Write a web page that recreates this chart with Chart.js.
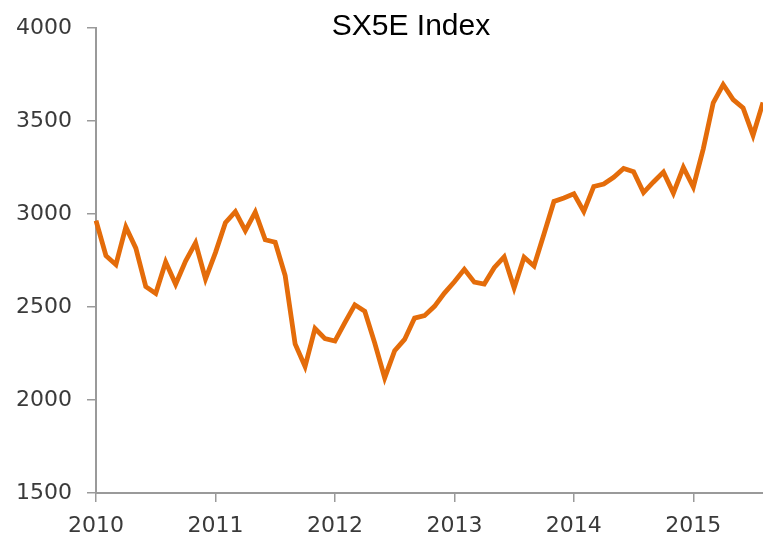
<!DOCTYPE html>
<html>
<head>
<meta charset="utf-8">
<script src="https://cdn.jsdelivr.net/npm/chart.js@4/dist/chart.umd.min.js"></script>
<style>
  html, body { margin: 0; padding: 0; background: #ffffff; }
  #wrap { position: relative; width: 763px; height: 539px; }
</style>
</head>
<body>
<div id="wrap"><canvas id="c" width="763" height="539"></canvas></div>
<script>
const chartTitle = 'SX5E Index';

// Month-end observations, Dec 2009 .. Jul 2015
const months = [
  '2009-12',
  '2010-01','2010-02','2010-03','2010-04','2010-05','2010-06','2010-07','2010-08','2010-09','2010-10','2010-11','2010-12',
  '2011-01','2011-02','2011-03','2011-04','2011-05','2011-06','2011-07','2011-08','2011-09','2011-10','2011-11','2011-12',
  '2012-01','2012-02','2012-03','2012-04','2012-05','2012-06','2012-07','2012-08','2012-09','2012-10','2012-11','2012-12',
  '2013-01','2013-02','2013-03','2013-04','2013-05','2013-06','2013-07','2013-08','2013-09','2013-10','2013-11','2013-12',
  '2014-01','2014-02','2014-03','2014-04','2014-05','2014-06','2014-07','2014-08','2014-09','2014-10','2014-11','2014-12',
  '2015-01','2015-02','2015-03','2015-04','2015-05','2015-06','2015-07'
];

const sx5e = [
  2965,
  2776, 2728, 2931, 2817, 2610, 2573, 2742, 2623, 2748, 2845, 2651, 2793,
  2954, 3013, 2911, 3011, 2862, 2849, 2670, 2302, 2180, 2385, 2330, 2317,
  2417, 2512, 2477, 2306, 2119, 2265, 2326, 2441, 2454, 2504, 2575, 2636,
  2703, 2634, 2624, 2712, 2770, 2603, 2768, 2721, 2893, 3068, 3087, 3109,
  3014, 3149, 3162, 3198, 3245, 3228, 3116, 3173, 3226, 3113, 3251, 3146,
  3351, 3599, 3697, 3616, 3571, 3424, 3601
];

// x-axis year labels, placed at the start of each year (every 12th observation)
const yearLabels = ['2010', '2011', '2012', '2013', '2014', '2015'];
const yTicks = [1500, 2000, 2500, 3000, 3500, 4000];

const axisColor = '#9a9a9a';
const tickFont = { family: 'DejaVu Sans', size: 22 };

const titlePlugin = {
  id: 'titleText',
  afterDraw(chart) {
    const ctx = chart.ctx;
    ctx.save();
    ctx.font = '30px "Liberation Sans", Arial, sans-serif';
    ctx.fillStyle = '#000000';
    ctx.textAlign = 'center';
    ctx.textBaseline = 'alphabetic';
    ctx.fillText(chartTitle, 411, 35);
    ctx.restore();
  }
};

new Chart(document.getElementById('c'), {
  type: 'line',
  data: {
    labels: months,
    datasets: [{
      data: sx5e,
      borderColor: '#E46C0A',
      borderWidth: 4.8,
      pointRadius: 0,
      tension: 0,
      fill: false,
      borderJoinStyle: 'miter'
    }]
  },
  options: {
    responsive: false,
    animation: false,
    devicePixelRatio: 1,
    layout: { padding: { top: 28, right: 0, left: 0, bottom: 0 } },
    plugins: {
      legend: { display: false },
      tooltip: { enabled: false },
      title: { display: false }
    },
    scales: {
      x: {
        type: 'category',
        offset: false,
        border: { color: axisColor, width: 2 },
        grid: { drawOnChartArea: false, drawTicks: true, tickLength: 9, color: axisColor, lineWidth: 1.5 },
        afterBuildTicks(scale) {
          scale.ticks = scale.ticks.filter(t => t.value % 12 === 0);
        },
        afterFit(scale) { scale.height = 46; },
        ticks: {
          autoSkip: false,
          maxRotation: 0,
          padding: 11,
          color: '#3a3a3a',
          font: tickFont,
          callback: (value) => yearLabels[value / 12]
        }
      },
      y: {
        type: 'linear',
        min: 1500,
        max: 4000,
        border: { color: axisColor, width: 2 },
        grid: { drawOnChartArea: false, drawTicks: true, tickLength: 9, color: axisColor, lineWidth: 1.5 },
        afterBuildTicks(scale) {
          scale.ticks = yTicks.map(v => ({ value: v }));
        },
        afterFit(scale) { scale.width = 96; },
        ticks: {
          padding: 15,
          color: '#3a3a3a',
          font: tickFont,
          callback: (v) => String(v)
        }
      }
    }
  },
  plugins: [titlePlugin]
});
</script>
</body>
</html>
